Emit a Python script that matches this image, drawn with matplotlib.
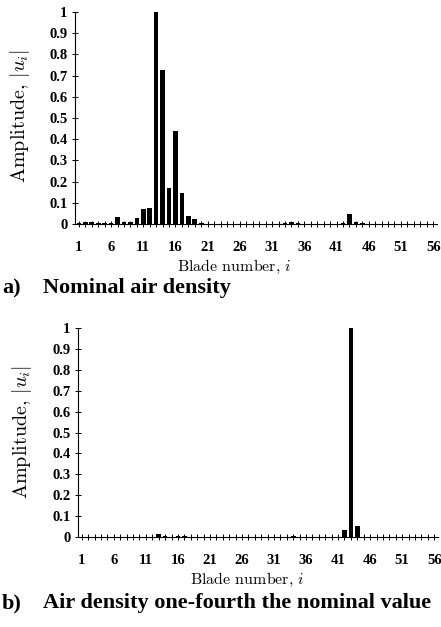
import numpy as np
import matplotlib
matplotlib.use("Agg")
import matplotlib.pyplot as plt

plt.rcParams['mathtext.fontset'] = 'cm'

# numero de alabe 1..56
blades = np.arange(1, 57)

# a) densidad nominal
amp_nominal = [0.005, 0.010, 0.008, 0.004, 0.004, 0.004, 0.035, 0.008, 0.008, 0.030,
               0.070, 0.075, 1.000, 0.725, 0.170, 0.440, 0.145, 0.040, 0.025, 0.005,
               0.002, 0.002, 0.002, 0.002, 0.002, 0.002, 0.002, 0.002, 0.002, 0.002,
               0.002, 0.002, 0.006, 0.010, 0.004, 0.002, 0.002, 0.002, 0.002, 0.002,
               0.002, 0.003, 0.045, 0.010, 0.005, 0.002, 0.002, 0.002, 0.002, 0.002,
               0.002, 0.002, 0.002, 0.002, 0.002, 0.002]

# b) un cuarto de la densidad nominal
amp_quarter = [0.001, 0.001, 0.001, 0.001, 0.001, 0.001, 0.001, 0.001, 0.001, 0.001,
               0.001, 0.002, 0.015, 0.005, 0.002, 0.005, 0.005, 0.002, 0.001, 0.001,
               0.001, 0.001, 0.001, 0.001, 0.001, 0.001, 0.001, 0.001, 0.001, 0.001,
               0.001, 0.001, 0.002, 0.005, 0.002, 0.001, 0.001, 0.001, 0.001, 0.001,
               0.001, 0.035, 1.000, 0.055, 0.002, 0.001, 0.001, 0.001, 0.001, 0.001,
               0.001, 0.001, 0.001, 0.001, 0.001, 0.001]

xtick_labels = [1, 6, 11, 16, 21, 26, 31, 36, 41, 46, 51, 56]
ytick_vals = [0, 0.1, 0.2, 0.3, 0.4, 0.5, 0.6, 0.7, 0.8, 0.9, 1]
ytick_text = ['0', '0.1', '0.2', '0.3', '0.4', '0.5', '0.6', '0.7', '0.8', '0.9', '1']

W, H = 441, 627
fig = plt.figure(figsize=(W / 100, H / 100), dpi=100)

tickfont = dict(family='Liberation Serif', weight='bold', size=10.5)


def panel(rect, values):
    ax = fig.add_axes(rect)
    ax.bar(blades, values, width=0.72, color='black')
    ax.set_xlim(0.4, 56.6)
    ax.set_ylim(0, 1)
    ax.spines['top'].set_visible(False)
    ax.spines['right'].set_visible(False)
    ax.spines['left'].set_linewidth(0.8)
    ax.spines['bottom'].set_linewidth(0.8)
    ax.set_xticks(xtick_labels)
    ax.set_xticklabels([str(v) for v in xtick_labels], fontdict=tickfont)
    ax.set_xticks(blades, minor=True)
    ax.set_yticks(ytick_vals)
    ax.set_yticklabels(ytick_text, fontdict=tickfont)
    ax.tick_params(axis='x', which='both', direction='inout', length=4, width=0.7, pad=10)
    ax.tick_params(axis='y', which='both', direction='inout', length=4, width=0.7, pad=3.5)
    return ax


ax1 = panel([75 / W, 1 - 224 / H, 362 / W, 212 / H], amp_nominal)
ax2 = panel([78 / W, 1 - 537 / H, 360 / W, 209 / H], amp_quarter)

lab = dict(family='cmr10', size=11.5, ha='center', va='center')
fig.text(234 / W, 1 - 267 / H, r'Blade number, $i$', **lab)
fig.text(247 / W, 1 - 580 / H, r'Blade number, $i$', **lab)
ylab = dict(family='cmr10', size=14.5, ha='center', va='center', rotation=90)
fig.text(20 / W, 1 - 116 / H, r'Amplitude, $|u_i|$', **ylab)
fig.text(22 / W, 1 - 432 / H, r'Amplitude, $|u_i|$', **ylab)

cap = dict(family='Liberation Serif', weight='bold', size=16, va='center')
fig.text(2 / W, 1 - 288 / H, 'a)', **cap)
fig.text(43 / W, 1 - 288 / H, 'Nominal air density', **cap)
fig.text(2 / W, 1 - 603 / H, 'b)', **cap)
fig.text(43 / W, 1 - 603 / H, 'Air density one-fourth the nominal value', **cap)

fig.savefig('out.png', dpi=100)
